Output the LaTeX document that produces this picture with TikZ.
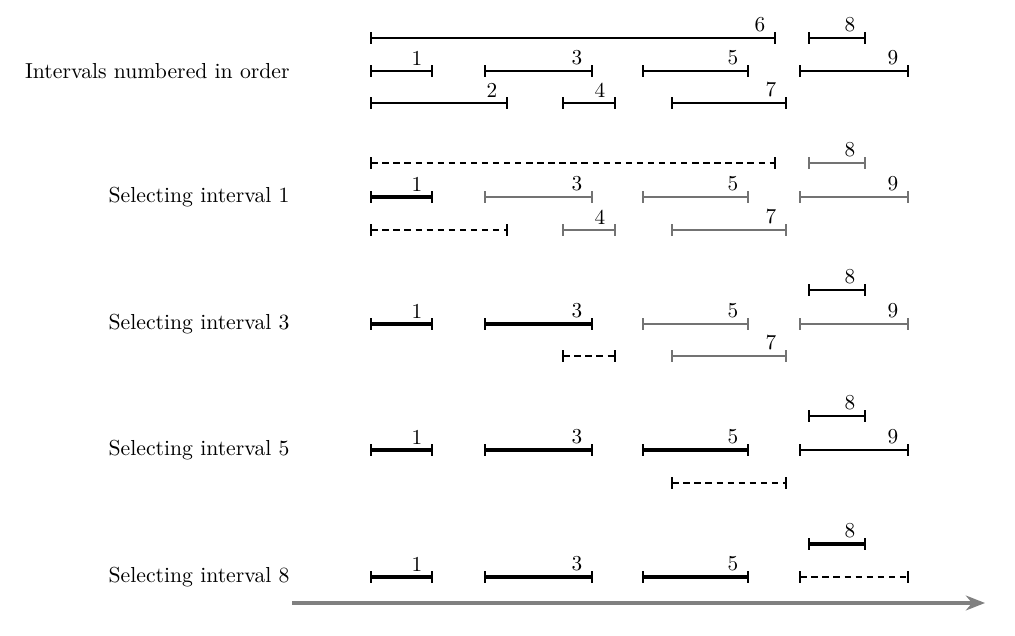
\documentclass[tikz,border=0pt]{standalone}
\usetikzlibrary{arrows.meta}

\tikzset{
  ival/.style={{Bar[width=5.5pt,line width=0.8pt]}-{Bar[width=5.5pt,line width=0.8pt]}, line width=0.6pt},
  rest/.style={ival, black!55},
  chosen/.style={ival, line width=1.5pt},
  dropped/.style={ival, dashed, dash pattern=on 3pt off 2.2pt},
  num/.style={inner sep=1pt},
  rowlabel/.style={anchor=east, inner sep=0pt, font=\fontsize{10.2}{12}\selectfont}
}

\begin{document}
\begin{tikzpicture}[x=0.47pt,y=-0.47pt]
\useasboundingbox (0,0) rectangle (1015,636);

% row labels
\node[rowlabel] (lab0) at (290,71) {Intervals numbered in order};
\node[rowlabel] (lab1) at (290,197) {Selecting interval 1};
\node[rowlabel] (lab3) at (290,324) {Selecting interval 3};
\node[rowlabel] (lab5) at (290,450) {Selecting interval 5};
\node[rowlabel] (lab8) at (290,577) {Selecting interval 8};

% labelled intervals: start/end/number/row/style
\foreach \a/\b/\n/\y/\s in {
  370/776/6/38/ival, 808/866/8/38/ival,
  370/433/1/71/ival, 484/593/3/71/ival, 642/749/5/71/ival, 799/909/9/71/ival,
  370/508/2/103/ival, 562/616/4/103/ival, 671/787/7/103/ival,
  808/866/8/163/rest,
  370/433/1/197/chosen, 484/593/3/197/rest, 642/749/5/197/rest, 799/909/9/197/rest,
  562/616/4/230/rest, 671/787/7/230/rest,
  808/866/8/290/ival,
  370/433/1/324/chosen, 484/593/3/324/chosen, 642/749/5/324/rest, 799/909/9/324/rest,
  671/787/7/356/rest,
  808/866/8/416/ival,
  370/433/1/450/chosen, 484/593/3/450/chosen, 642/749/5/450/chosen, 799/909/9/450/ival,
  808/866/8/544/chosen,
  370/433/1/577/chosen, 484/593/3/577/chosen, 642/749/5/577/chosen}
{
  \draw[\s] (\a,\y) -- (\b,\y);
  \node[num] (n\n-\y) at (\b-16,\y-13) {\n};
}

% discarded intervals
\foreach \a/\b/\y in {370/776/163, 370/508/230, 562/616/356, 671/787/483, 799/909/577}
  {\draw[dropped] (\a,\y) -- (\b,\y);}

% time axis
\draw[-{Stealth[length=9pt,width=7pt]}, line width=2pt, black!50] (292,603) -- (985,603);
\end{tikzpicture}
\end{document}
